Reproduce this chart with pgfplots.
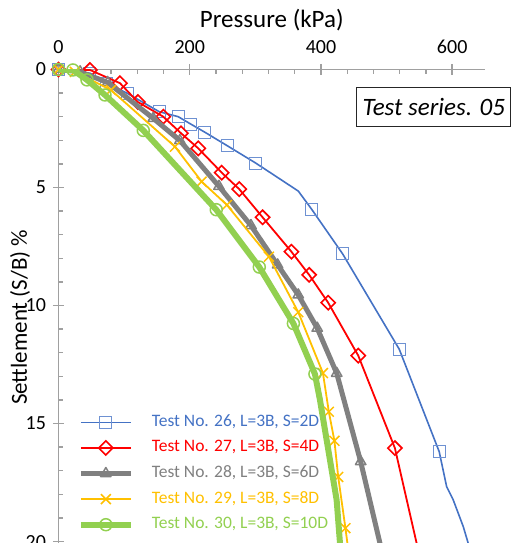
\documentclass[border=0pt]{standalone}
\usepackage{fontspec}
\setmainfont{Carlito}
\usepackage{pgfplots}
\pgfplotsset{compat=1.18}
\definecolor{cblue}{RGB}{68,114,196}
\definecolor{cbluem}{RGB}{110,145,210}
\definecolor{cred}{RGB}{255,0,0}
\definecolor{cgray}{RGB}{128,128,128}
\definecolor{cyellow}{RGB}{255,192,0}
\definecolor{cgreen}{RGB}{146,208,80}
\definecolor{axgray}{RGB}{160,160,160}
\begin{document}
\begin{tikzpicture}
\begin{axis}[
  scale only axis, width=426.6pt, height=473.6pt,
  xmin=0, xmax=650, ymin=0, ymax=20.06,
  y dir=reverse,
  axis x line*=top, axis y line*=left,
  xtick={0,200,400,600}, ytick={0,5,10,15,20},
  minor x tick num=4, minor y tick num=4,
  tick align=inside, major tick length=11pt, minor tick length=5pt,
  major x tick style={yshift=5.5pt},
  major y tick style={xshift=-5.5pt},
  axis line style={axgray, line width=1.4pt},
  every tick/.style={axgray, line width=1.4pt},
  /pgf/number format/assume math mode=true,
  ticklabel style={font=\fontsize{20}{20}\selectfont, text=black},
  xticklabel style={yshift=12pt},
  yticklabel style={xshift=-9pt},
  xlabel={Pressure (kPa)},
  xlabel style={at={(axis cs:325,-2.1)}, anchor=center, font=\fontsize{25}{25}\selectfont},
  ylabel={Settlement (S/B) \%},
  ylabel style={at={(axis cs:-58.7,10.5)}, anchor=center, font=\fontsize{23}{23}\selectfont},
  clip mode=individual,
  legend style={at={(axis cs:29.2,14.6)}, anchor=north west, draw=none, fill=none,
    inner sep=0pt,
    font=\fontsize{17.5}{17.5}\selectfont,
    nodes={inner sep=0pt, text height=12pt, text depth=4pt},
    row sep=9.6pt, column sep=0pt,
    /tikz/every odd column/.style={column sep=18pt}},
  legend cell align=left,
  legend image code/.code={
    \draw[mark indices={2}] plot coordinates {(0pt,0pt) (25pt,0pt) (50pt,0pt)};
  },
]
% Test 26
\addplot[cblue, line width=1.6pt, mark=square, mark size=6pt,
  mark options={draw=cbluem, line width=1pt, fill=none},
  mark indices={1,2,3,4,5,6,7,8,9,10,12,13,14,15}]
coordinates {(0,0) (48,0.16) (73.4,0.58) (104.8,1.01) (153.6,1.79) (182.5,2.0) (201.4,2.31)
 (223.2,2.66) (257.2,3.23) (300.9,3.97) (365.4,5.15) (385.8,5.92) (433,7.81) (519.3,11.85)
 (580.2,16.19) (591.5,17.67) (601.5,18.23) (616.8,19.36) (624.4,20.07) (630,20.8)};
\addlegendentry{\textcolor{cblue}{Test No. 26, L=3B, S=2D}}
% Test 27
\addplot[cred, line width=1.8pt, mark=square, mark size=5pt,
  mark options={rotate=45, line width=1.6pt, fill=none},
  mark indices={1,2,3,4,5,6,7,8,9,10,11,12,13,14,15}]
coordinates {(0,0) (48,0.02) (93.7,0.58) (121,1.38) (159.7,2.0) (186.7,2.70) (213,3.34)
 (248.7,4.37) (275.5,5.07) (311,6.26) (355,7.72) (382,8.70) (411,9.88) (456.8,12.12)
 (512.7,16.04) (545.8,20.07) (552,20.8)};
\addlegendentry{\textcolor{cred}{Test No. 27, L=3B, S=4D}}
% Test 28
\addplot[cgray, line width=5pt, line join=round, mark=triangle, mark size=6pt,
  mark options={line width=1.5pt, fill=none},
  mark indices={1,2,3,4,5,6,7,8,9,10,11,12}]
coordinates {(0,0) (33,0.1) (75,0.55) (144.4,2.07) (185,3.01) (244.6,4.95) (293.3,6.61)
 (334,8.28) (365.4,9.55) (394.3,10.96) (424,12.87) (460.5,16.61) (489.9,20.07) (494,20.8)};
\addlegendentry{\textcolor{cgray}{Test No. 28, L=3B, S=6D}}
% Test 29
\addplot[cyellow, line width=1.8pt, mark=x, mark size=7pt,
  mark options={line width=1.5pt},
  mark indices={1,2,3,4,5,6,7,8,9,10,11,12,13}]
coordinates {(0,0) (25,0.1) (80,0.87) (177.5,3.27) (218.2,4.75) (256.7,5.74) (320.7,7.93)
 (365.4,10.28) (403,12.86) (412,14.5) (420.5,15.73) (426.3,17.26) (437.3,19.43)
 (440.3,20.07) (441.5,20.8)};
\addlegendentry{\textcolor{cyellow}{Test No. 29, L=3B, S=8D}}
% Test 30
\addplot[cgreen, line width=6pt, line join=round, mark=o, mark size=6pt,
  mark options={line width=1.5pt, fill=none},
  mark indices={1,2,3,4,5,6,7,8,9}]
coordinates {(0,0) (22,0.02) (43.4,0.44) (70.9,1.08) (129.2,2.58) (240.4,5.94) (306,8.37)
 (358,10.76) (390.8,12.9) (398.5,14.0) (423.9,18.24) (429,20.07) (430,20.8)};
\addlegendentry{\textcolor{cgreen}{Test No. 30, L=3B, S=10D}}
\node[draw=black!85, line width=1pt, font=\itshape\fontsize{25}{25}\selectfont,
  minimum width=154pt, minimum height=39pt, inner sep=0pt] at (axis cs:572,1.61) {Test series. 05};
\coordinate (O) at (axis cs:0,0);
\coordinate (B) at (axis cs:0,20.06);
\end{axis}
\pgfresetboundingbox
\path[use as bounding box] ([shift={(-58.5pt,69.5pt)}]O) rectangle ([shift={(457.5pt,0pt)}]B);
\end{tikzpicture}
\end{document}
